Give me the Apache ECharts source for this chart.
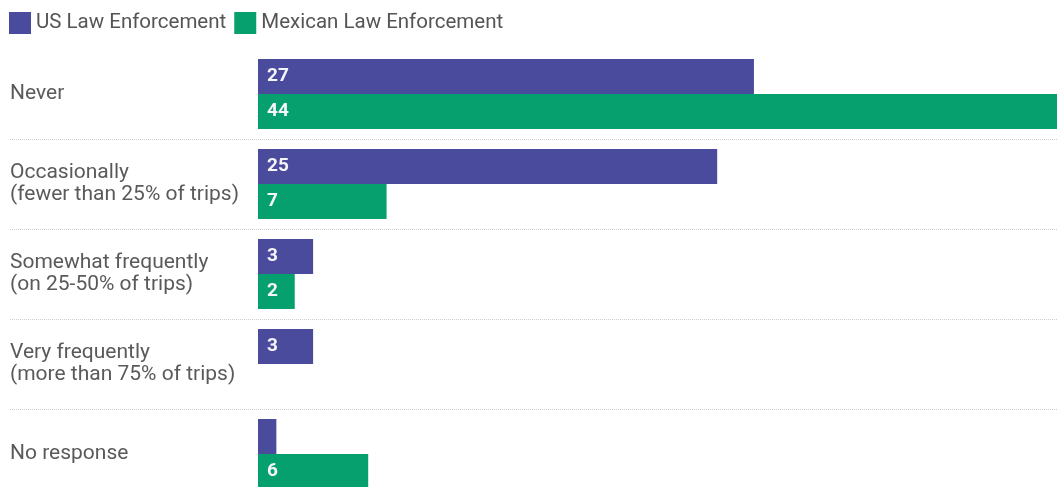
<!DOCTYPE html>
<html>
<head>
<meta charset="utf-8">
<script src="https://cdn.jsdelivr.net/npm/echarts@6/dist/echarts.min.js"></script>
<style>
html,body{margin:0;padding:0;background:#fff;}
#chart{width:1057px;height:487px;}
</style>
</head>
<body>
<div id="chart"></div>
<script>
const categories = [
  'Never',
  'Occasionally\n(fewer than 25% of trips)',
  'Somewhat frequently\n(on 25-50% of trips)',
  'Very frequently\n(more than 75% of trips)',
  'No response'
];
const seriesNames = ['US Law Enforcement', 'Mexican Law Enforcement'];
const usValues = [27, 25, 3, 3, 1];
const mexValues = [44, 7, 2, null, 6];

const colors = ['#4a4b9c', '#05a06e'];
const chart = echarts.init(document.getElementById('chart'));

const labelOpt = {
  show: true,
  position: 'insideLeft',
  distance: 9,
  color: '#f4f4fa',
  fontWeight: 'bold',
  fontSize: 19,
  fontFamily: 'Roboto',
  formatter: p => (p.value == null || p.value < 2) ? '' : String(p.value)
};

chart.setOption({
  animation: false,
  textStyle: { fontFamily: 'Roboto' },
  legend: {
    left: 4, top: 7,
    itemWidth: 22, itemHeight: 22, itemGap: 8,
    icon: 'rect',
    textStyle: { fontSize: 20.5, color: '#555', fontFamily: 'Roboto' },
    data: seriesNames
  },
  grid: [
    { left: 258, right: 0, top: 49, height: 450, outerBoundsMode: 'none', containLabel: false },
    { left: 10, right: 0, top: 49, height: 450, outerBoundsMode: 'none', containLabel: false }
  ],
  xAxis: [
    { gridIndex: 0, type: 'value', min: 0, max: 43.5, show: false },
    { gridIndex: 1, type: 'value', min: 0, max: 1, show: false }
  ],
  yAxis: [
    {
      gridIndex: 0, type: 'category', inverse: true, data: categories,
      axisLine: { show: false }, axisTick: { show: false }, splitLine: { show: false },
      axisLabel: {
        align: 'left', margin: 248, fontSize: 21, lineHeight: 22,
        color: '#5a5a5a', fontFamily: 'Roboto'
      }
    },
    {
      gridIndex: 1, type: 'category', inverse: true, data: categories,
      axisLine: { show: false }, axisTick: { show: false }, axisLabel: { show: false },
      splitLine: {
        show: true,
        interval: (i) => i > 0,
        lineStyle: { type: 'dotted', color: '#cfcfcf', width: 1 }
      }
    }
  ],
  series: [
    {
      name: seriesNames[0], type: 'bar', xAxisIndex: 0, yAxisIndex: 0,
      data: usValues, barWidth: 35, barGap: '0%',
      itemStyle: { color: colors[0] }, label: labelOpt
    },
    {
      name: seriesNames[1], type: 'bar', xAxisIndex: 0, yAxisIndex: 0,
      data: mexValues, barWidth: 35, barGap: '0%',
      itemStyle: { color: colors[1] }, label: labelOpt
    }
  ]
});
</script>
</body>
</html>
